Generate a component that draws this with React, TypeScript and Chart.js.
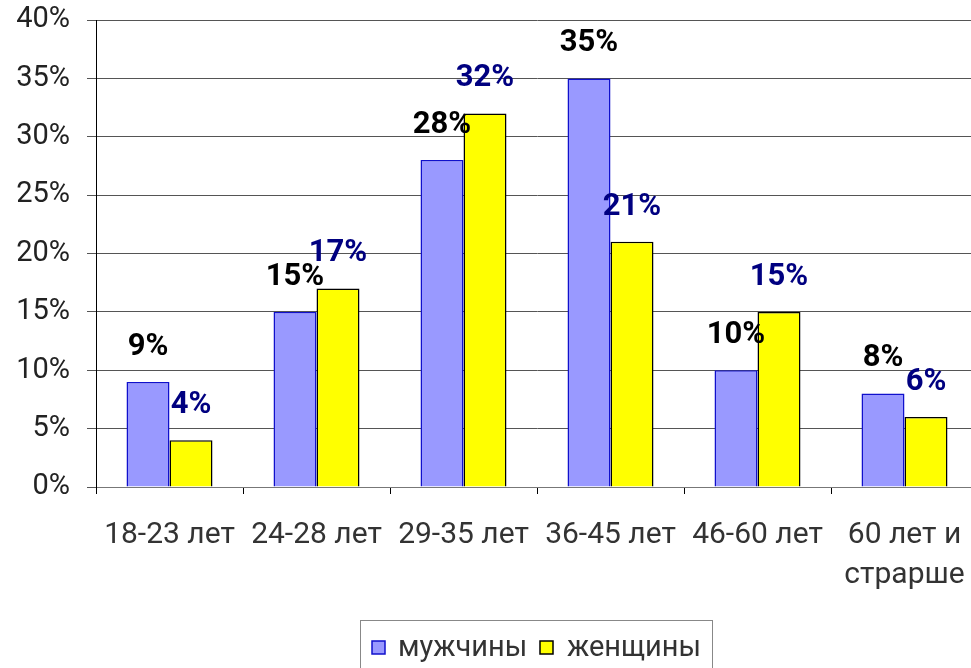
import React, { useEffect, useRef } from "react";
import { Chart, registerables } from "chart.js";

Chart.register(...registerables);

const categories: (string | string[])[] = [
  "18-23 лет",
  "24-28 лет",
  "29-35 лет",
  "36-45 лет",
  "46-60 лет",
  ["60 лет и", "страрше"],
];
const seriesNames = ["мужчины", "женщины"];
const menValues = [9, 15, 28, 35, 10, 8];
const womenValues = [4, 17, 32, 21, 15, 6];
const yTicks = [0, 5, 10, 15, 20, 25, 30, 35, 40];

const FONT = "Roboto, 'Liberation Sans', Arial, sans-serif";

const labelPlugin = {
  id: "valueLabels",
  afterDatasetsDraw(chart: any) {
    const ctx = chart.ctx;
    const colors = ["#000000", "#000080"];
    chart.data.datasets.forEach((ds: any, i: number) => {
      const meta = chart.getDatasetMeta(i);
      meta.data.forEach((el: any, j: number) => {
        ctx.save();
        ctx.font = `bold 31px ${FONT}`;
        ctx.fillStyle = colors[i];
        ctx.textAlign = "center";
        ctx.textBaseline = "middle";
        ctx.fillText(ds.data[j] + "%", el.x, el.y - 35);
        ctx.restore();
      });
    });
  },
};

const legendPlugin = {
  id: "boxLegend",
  afterDraw(chart: any) {
    const ctx = chart.ctx;
    ctx.save();
    ctx.strokeStyle = "#888888";
    ctx.lineWidth = 1;
    ctx.strokeRect(360.5, 620.5, 352, 60);
    ctx.font = `29px ${FONT}`;
    ctx.textBaseline = "middle";
    ctx.textAlign = "left";
    const items = [
      { x: 372, tx: 398 },
      { x: 540, tx: 567 },
    ];
    chart.data.datasets.forEach((ds: any, i: number) => {
      const it = items[i];
      ctx.fillStyle = ds.backgroundColor;
      ctx.fillRect(it.x, 641, 13, 13);
      ctx.strokeStyle = ds.borderColor;
      ctx.lineWidth = 1.5;
      ctx.strokeRect(it.x, 641, 13, 13);
      ctx.fillStyle = "#333333";
      ctx.fillText(ds.label, it.tx, 649);
    });
    ctx.restore();
  },
};

export default function App() {
  const ref = useRef<HTMLCanvasElement>(null);
  useEffect(() => {
    if (!ref.current) return;
    const chart = new Chart(ref.current, {
      type: "bar",
      data: {
        labels: categories,
        datasets: [
          {
            label: seriesNames[0],
            data: menValues,
            backgroundColor: "#9999FF",
            borderColor: "#1010CC",
            borderWidth: 1.5,
            categoryPercentage: 0.585,
            barPercentage: 1,
          },
          {
            label: seriesNames[1],
            data: womenValues,
            backgroundColor: "#FFFF00",
            borderColor: "#000000",
            borderWidth: 1.5,
            categoryPercentage: 0.585,
            barPercentage: 1,
          },
        ],
      },
      options: {
        animation: false,
        responsive: false,
        devicePixelRatio: 1,
        layout: { padding: { top: 20, right: 12, left: 0, bottom: 0 } },
        plugins: { legend: { display: false }, tooltip: { enabled: false } },
        scales: {
          x: {
            afterFit: (s: any) => {
              s.height = 181;
              s.paddingLeft = 0;
              s.paddingRight = 0;
            },
            grid: {
              offset: true,
              drawOnChartArea: false,
              drawTicks: true,
              tickLength: 7,
              color: "#000000",
            },
            border: { display: true, color: "#777777", width: 1 },
            ticks: {
              color: "#333333",
              font: { family: FONT, size: 30, lineHeight: 1.35 },
              padding: 21,
              maxRotation: 0,
              autoSkip: false,
            },
          },
          y: {
            min: 0,
            max: 40,
            afterFit: (s: any) => {
              s.width = 96;
              s.paddingTop = 0;
              s.paddingBottom = 0;
            },
            afterBuildTicks: (s: any) => {
              s.ticks = yTicks.map((v) => ({ value: v }));
            },
            grid: {
              color: "#555555",
              lineWidth: 1,
              drawTicks: true,
              tickLength: 9,
            },
            border: { display: true, color: "#000000", width: 1 },
            ticks: {
              color: "#222222",
              font: { family: FONT, size: 29 },
              padding: 17,
              callback: (v: any) => v + "%",
            },
          },
        },
      },
      plugins: [labelPlugin, legendPlugin],
    });
    return () => chart.destroy();
  }, []);
  return (
    <div
      style={{
        position: "fixed",
        left: 0,
        top: 0,
        width: 971,
        height: 668,
        overflow: "hidden",
        background: "#ffffff",
      }}
    >
      <canvas ref={ref} width={990} height={668} style={{ display: "block" }} />
    </div>
  );
}
